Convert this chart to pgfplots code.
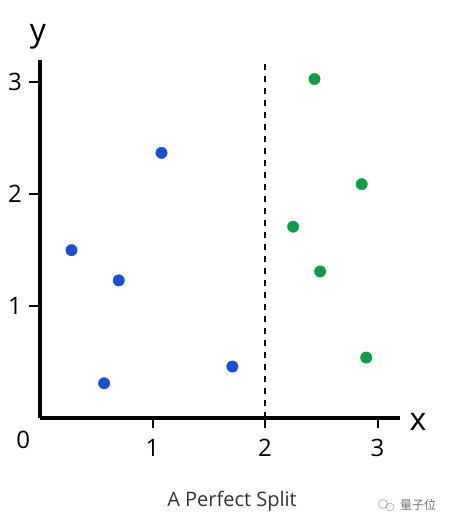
\documentclass[border=0pt]{standalone}
\usepackage{fontspec}
\setmainfont{Open Sans}
\newfontfamily\cjk{Noto Sans CJK SC}
\usepackage{pgfplots}
\pgfplotsset{compat=1.18}
\definecolor{ptblue}{RGB}{26,79,208}
\definecolor{ptgreen}{RGB}{15,155,72}
\begin{document}
\begin{tikzpicture}
\useasboundingbox (0pt,0pt) rectangle (448pt,525pt);
\begin{axis}[
  at={(40pt,107pt)}, anchor=south west,
  scale only axis, width=360pt, height=358pt,
  xmin=0, xmax=3.2, ymin=0, ymax=3.2,
  axis x line=bottom, axis y line=left,
  axis line style={-, line width=3.6pt},
  xtick={1,2,3}, ytick={1,2,3},
  tick align=outside, major tick length=9pt,
  major tick style={draw=black, line width=2pt},
  tick label style={font=\fontsize{24}{28}\selectfont},
  /pgf/number format/assume math mode=true,
  xticklabel style={anchor=center, yshift=-21pt},
  yticklabel style={anchor=center, xshift=-16pt},
  clip=false,
]
\addplot[black, line width=2pt] coordinates {(1,0) (1,-0.09)};
\addplot[black, line width=2pt] coordinates {(2,0) (2,-0.09)};
\addplot[black, line width=2pt] coordinates {(3,0) (3,-0.09)};
\addplot[black, line width=2pt] coordinates {(0,1) (-0.1,1)};
\addplot[black, line width=2pt] coordinates {(0,2) (-0.1,2)};
\addplot[black, line width=2pt] coordinates {(0,3) (-0.1,3)};
\addplot[only marks, mark=*, mark size=5.7pt, ptblue, mark options={draw=ptblue, fill=ptblue}] coordinates {
  (0.28,1.50) (0.70,1.23) (0.57,0.31) (1.08,2.37) (1.71,0.46)
};
\addplot[only marks, mark=*, mark size=5.7pt, ptgreen, mark options={draw=ptgreen, fill=ptgreen}] coordinates {
  (2.44,3.03) (2.86,2.09) (2.25,1.71) (2.49,1.31) (2.90,0.54)
};
\addplot[black, line width=1.8pt, dash pattern=on 6pt off 6pt] coordinates {(2,0) (2,3.18)};
\node[font=\fontsize{24}{28}\selectfont, anchor=center] at (axis cs:-0.15,-0.20) {0};
\end{axis}
\node[font=\fontsize{32}{36}\selectfont, anchor=base] at (418pt,94pt) {x};
\node[font=\fontsize{32}{36}\selectfont, anchor=base] at (38pt,483pt) {y};
\node[font=\fontsize{20}{24}\selectfont, text=black!80, anchor=base] at (232pt,18pt) {A Perfect Split};
\draw[black!35, line width=0.6pt] (383pt,21pt) circle (4.5pt);
\draw[black!35, line width=0.6pt] (390pt,18pt) circle (4pt);
\node[font=\cjk\fontsize{12}{14}\selectfont, text=black!55, anchor=west, inner sep=0pt] at (400pt,20pt) {量子位};
\end{tikzpicture}
\end{document}
